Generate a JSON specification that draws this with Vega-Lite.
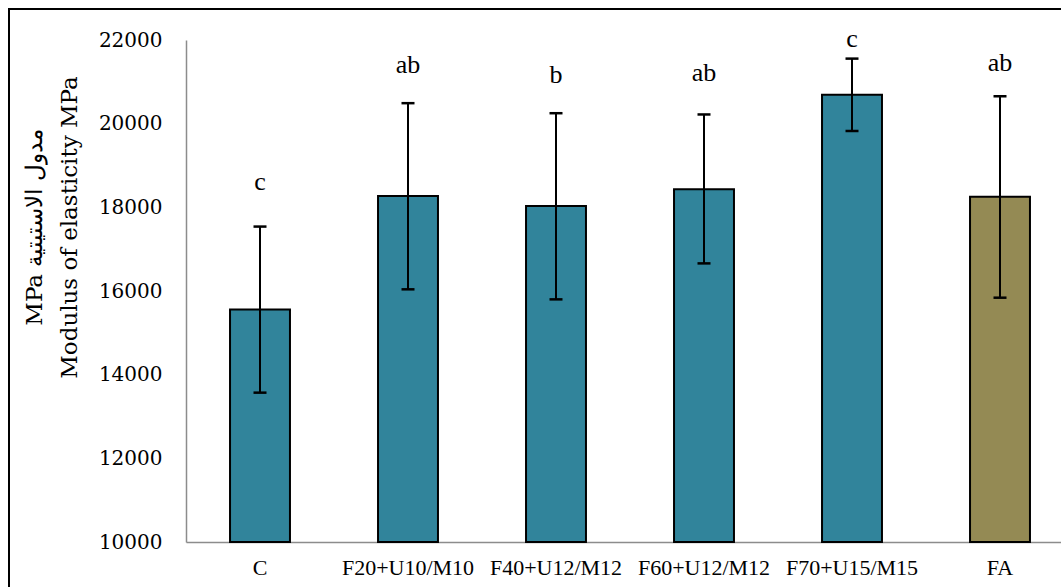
{
  "$schema": "https://vega.github.io/schema/vega-lite/v6.json",
  "width": 1061,
  "height": 600,
  "autosize": {"type": "none"},
  "padding": {"left": 9, "top": 9, "right": 0, "bottom": 0},
  "background": "white",
  "config": {
    "view": {"stroke": "black", "strokeWidth": 2},
    "font": "Liberation Serif"
  },
  "data": {
    "values": [
      {"group": "C", "kind": "mix", "value": 15560, "lo": 13570, "hi": 17540, "letter": "c", "letter_y": 18610},
      {"group": "F20+U10/M10", "kind": "mix", "value": 18270, "lo": 16040, "hi": 20490, "letter": "ab", "letter_y": 21400},
      {"group": "F40+U12/M12", "kind": "mix", "value": 18030, "lo": 15800, "hi": 20250, "letter": "b", "letter_y": 21160},
      {"group": "F60+U12/M12", "kind": "mix", "value": 18430, "lo": 16660, "hi": 20220, "letter": "ab", "letter_y": 21200},
      {"group": "F70+U15/M15", "kind": "mix", "value": 20690, "lo": 19825, "hi": 21555, "letter": "c", "letter_y": 22030},
      {"group": "FA", "kind": "FA", "value": 18255, "lo": 15840, "hi": 20655, "letter": "ab", "letter_y": 21440}
    ]
  },
  "encoding": {
    "x": {
      "field": "group",
      "type": "nominal",
      "sort": null,
      "scale": {"range": [177, 1065], "paddingInner": 0.595, "paddingOuter": 0.2975},
      "axis": {
        "orient": "bottom",
        "offset": -67,
        "title": null,
        "labelAngle": 0,
        "labelFont": "Liberation Serif",
        "labelFontSize": 22,
        "labelColor": "black",
        "labelPadding": 15,
        "ticks": false,
        "tickSize": 0,
        "domainColor": "#8c8c8c",
        "domainWidth": 1.5
      }
    },
    "y": {
      "field": "value",
      "type": "quantitative",
      "scale": {"domain": [10000, 22000], "range": [533, 31], "nice": false, "zero": false},
      "axis": {
        "values": [10000, 12000, 14000, 16000, 18000, 20000, 22000],
        "format": "d",
        "offset": -177,
        "grid": false,
        "ticks": false,
        "tickSize": 0,
        "labelFont": "DejaVu Serif",
        "labelFontSize": 20,
        "labelColor": "black",
        "labelPadding": 24,
        "domainColor": "#8c8c8c",
        "domainWidth": 1.5,
        "title": ["MPa مدول الاستيتية", "Modulus of elasticity MPa"],
        "titleFont": "DejaVu Serif",
        "titleFontSize": 23,
        "titleFontWeight": "normal",
        "titleColor": "black",
        "titleAngle": -90,
        "titleAlign": "center",
        "titleBaseline": "middle",
        "titleLineHeight": 35,
        "titleX": -152,
        "titleY": 218
      }
    }
  },
  "layer": [
    {
      "mark": {"type": "bar", "stroke": "black", "strokeWidth": 2},
      "encoding": {
        "y2": {"datum": 10000},
        "color": {
          "field": "kind",
          "type": "nominal",
          "scale": {"domain": ["mix", "FA"], "range": ["#31849B", "#948A54"]},
          "legend": null
        }
      }
    },
    {
      "mark": {"type": "rule", "color": "black", "strokeWidth": 2},
      "encoding": {
        "y": {"field": "lo", "type": "quantitative"},
        "y2": {"field": "hi"}
      }
    },
    {
      "mark": {"type": "tick", "color": "black", "size": 13, "thickness": 2.5, "opacity": 1},
      "encoding": {
        "y": {"field": "lo", "type": "quantitative"}
      }
    },
    {
      "mark": {"type": "tick", "color": "black", "size": 13, "thickness": 2.5, "opacity": 1},
      "encoding": {
        "y": {"field": "hi", "type": "quantitative"}
      }
    },
    {
      "mark": {"type": "text", "font": "Liberation Serif", "fontSize": 26, "color": "black", "align": "center", "baseline": "middle"},
      "encoding": {
        "y": {"field": "letter_y", "type": "quantitative"},
        "text": {"field": "letter", "type": "nominal"}
      }
    }
  ]
}
